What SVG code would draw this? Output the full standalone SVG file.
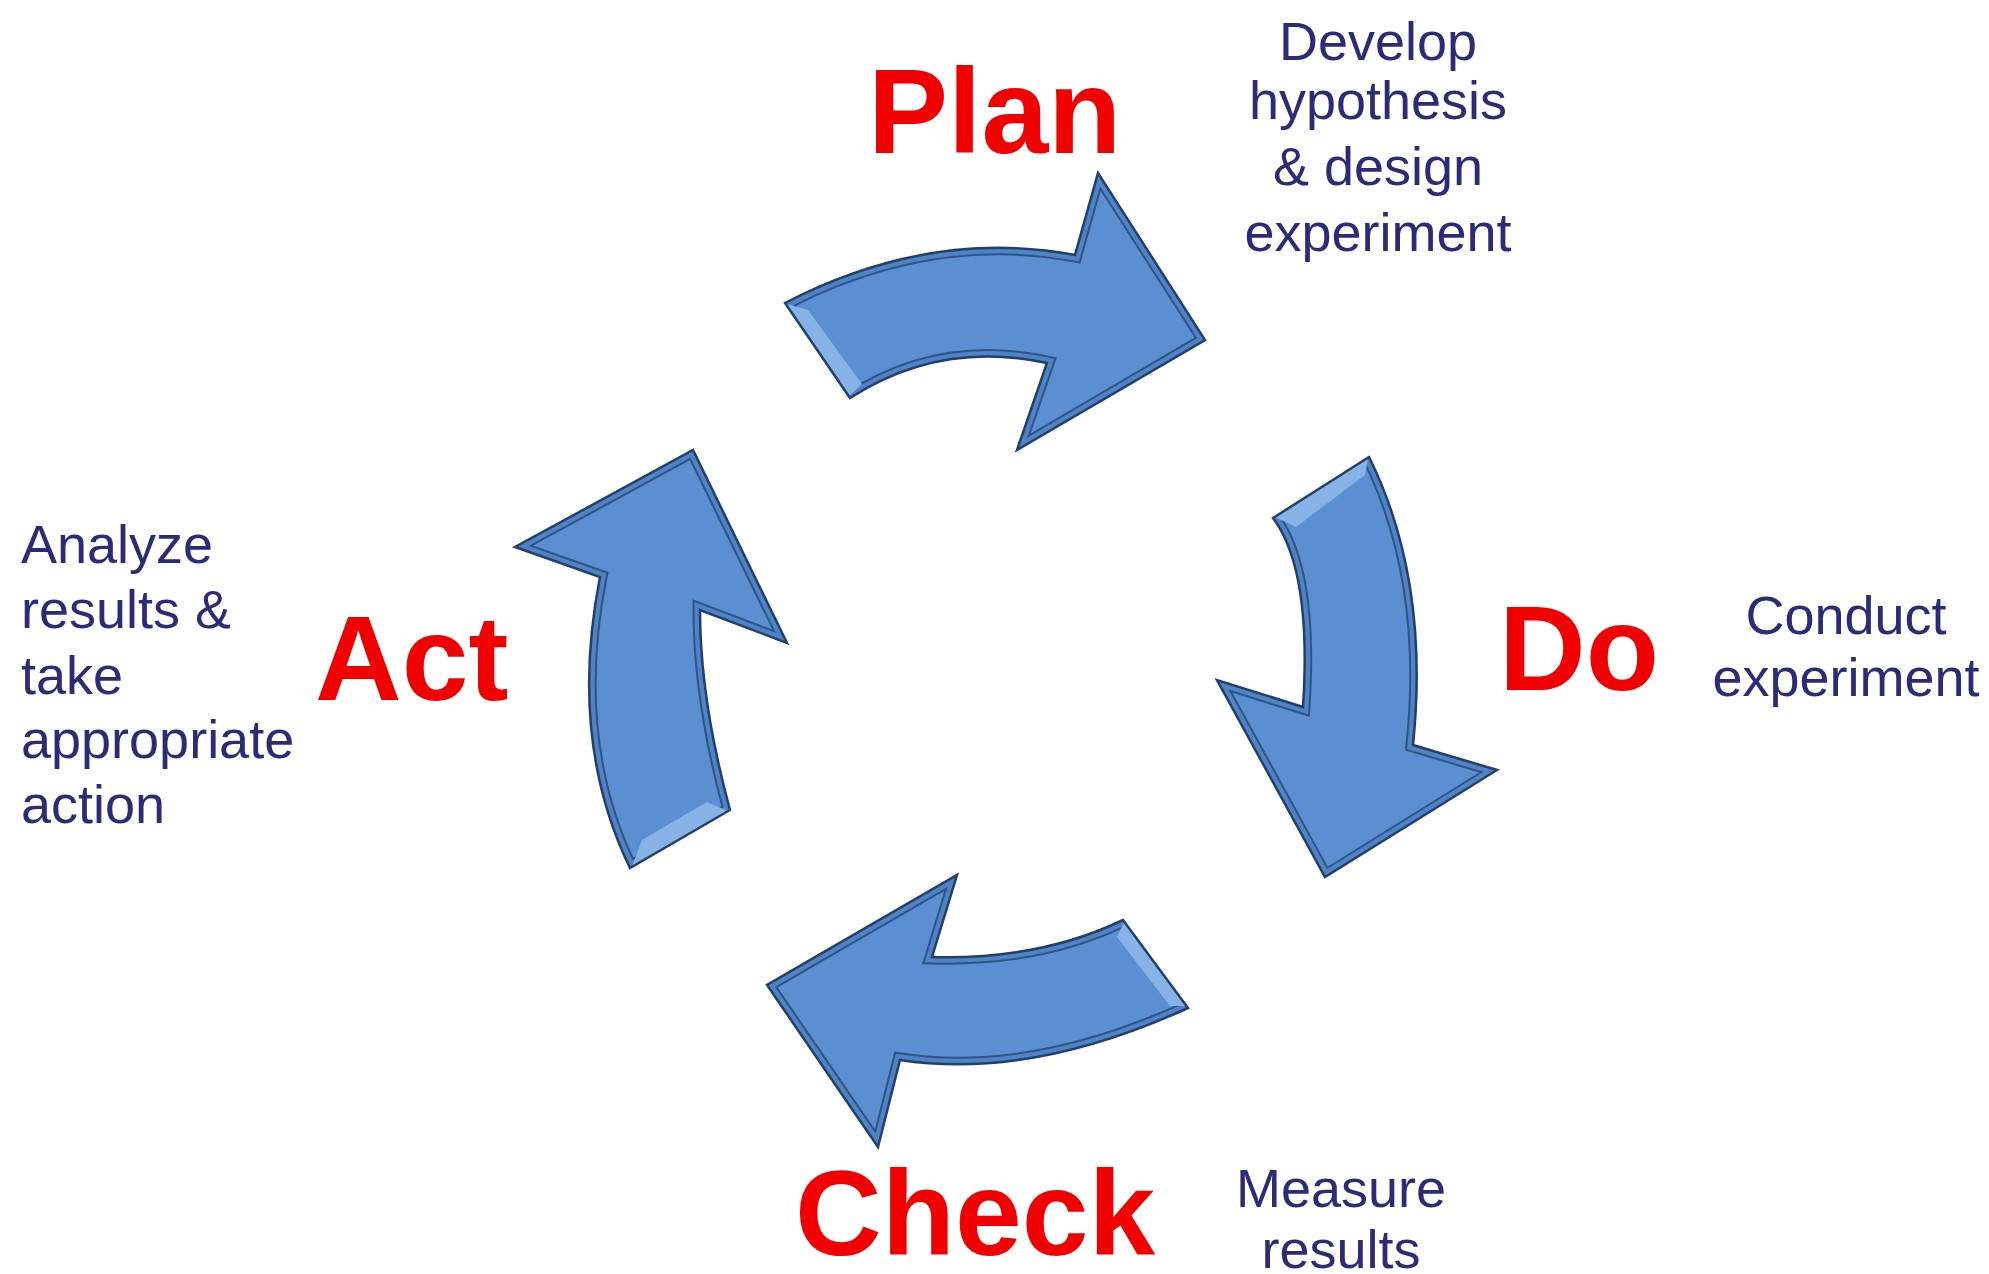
<svg xmlns="http://www.w3.org/2000/svg" xmlns:xlink="http://www.w3.org/1999/xlink" width="1989" height="1274" viewBox="0 0 1989 1274">
<style>
.phase{font-family:"Liberation Sans",Arial,sans-serif;font-weight:bold;font-size:120px;fill:#f00000}
.desc{font-family:"Liberation Sans",Arial,sans-serif;font-size:54px;fill:#2b2b77}
.body{fill:#5b8fd1}
.band1{fill:none;stroke:#2f5486;stroke-width:15}
.band2{fill:none;stroke:#4f83c5;stroke-width:11}
.edge{fill:none;stroke:#22406a;stroke-width:2.5;stroke-linejoin:miter}
.tail{fill:#86b2e6}
</style>
<defs>
<path id="p-plan" d="M785,303 Q930,228 1075,255 L1098,173 L1205,340 L1017,450 L1047,363 Q940,340 850,398 Z"/>
<path id="p-do" d="M1369,457 Q1430,580 1413,745 L1497,770 L1325,877 L1217,680 L1303,707 Q1312,570 1273,518 Z"/>
<path id="p-check" d="M1188,1008 Q1030,1080 900,1060 L878,1147 L767,985 L957,875 L932,957 Q1040,960 1123,920 Z"/>
<path id="p-act" d="M630,868 Q568,740 600,577 L515,547 L693,450 L787,643 L700,610 Q700,700 730,810 Z"/>
<clipPath id="c-plan"><use xlink:href="#p-plan"/></clipPath>
<clipPath id="c-do"><use xlink:href="#p-do"/></clipPath>
<clipPath id="c-check"><use xlink:href="#p-check"/></clipPath>
<clipPath id="c-act"><use xlink:href="#p-act"/></clipPath>
</defs>
<rect width="1989" height="1274" fill="#ffffff"/>
<g id="connectors">
<g id="arrow-plan-do">
<use xlink:href="#p-plan" class="body"/>
<use xlink:href="#p-plan" class="band1" clip-path="url(#c-plan)"/>
<use xlink:href="#p-plan" class="band2" clip-path="url(#c-plan)"/>
<polygon class="tail" points="787,304 849,396 862,384 808,310"/>
<use xlink:href="#p-plan" class="edge"/>
</g>
<g id="arrow-do-check">
<use xlink:href="#p-do" class="body"/>
<use xlink:href="#p-do" class="band1" clip-path="url(#c-do)"/>
<use xlink:href="#p-do" class="band2" clip-path="url(#c-do)"/>
<polygon class="tail" points="1275,517 1368,458 1365,475 1296,527"/>
<use xlink:href="#p-do" class="edge"/>
</g>
<g id="arrow-check-act">
<use xlink:href="#p-check" class="body"/>
<use xlink:href="#p-check" class="band1" clip-path="url(#c-check)"/>
<use xlink:href="#p-check" class="band2" clip-path="url(#c-check)"/>
<polygon class="tail" points="1124,922 1186,1006 1170,1006 1117,937"/>
<use xlink:href="#p-check" class="edge"/>
</g>
<g id="arrow-act-plan">
<use xlink:href="#p-act" class="body"/>
<use xlink:href="#p-act" class="band1" clip-path="url(#c-act)"/>
<use xlink:href="#p-act" class="band2" clip-path="url(#c-act)"/>
<polygon class="tail" points="632,866 728,811 707,802 642,840"/>
<use xlink:href="#p-act" class="edge"/>
</g>
</g>
<g id="node-plan">
<text class="phase" x="868" y="153">Plan</text>
<text class="desc" text-anchor="middle"><tspan x="1378" y="60">Develop</tspan><tspan x="1378" y="119">hypothesis</tspan><tspan x="1378" y="185">&amp; design</tspan><tspan x="1378" y="251">experiment</tspan></text>
</g>
<g id="node-do">
<text class="phase" x="1499" y="690">Do</text>
<text class="desc" text-anchor="middle"><tspan x="1846" y="634">Conduct</tspan><tspan x="1846" y="696">experiment</tspan></text>
</g>
<g id="node-check">
<text class="phase" x="795" y="1255">Check</text>
<text class="desc" text-anchor="middle"><tspan x="1341" y="1207">Measure</tspan><tspan x="1341" y="1268">results</tspan></text>
</g>
<g id="node-act">
<text class="phase" x="315" y="700">Act</text>
<text class="desc"><tspan x="21" y="563">Analyze</tspan><tspan x="21" y="628">results &amp;</tspan><tspan x="21" y="694">take</tspan><tspan x="21" y="758">appropriate</tspan><tspan x="21" y="823">action</tspan></text>
</g>
</svg>
